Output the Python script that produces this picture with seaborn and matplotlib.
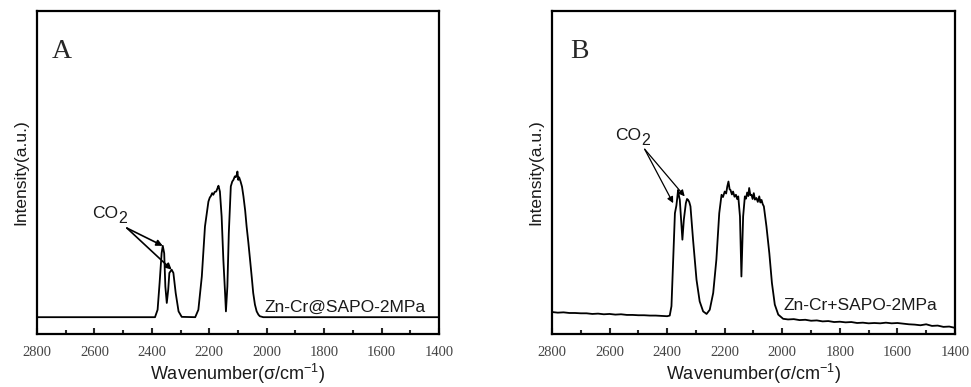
import numpy as np
import pandas as pd
import matplotlib
matplotlib.use("Agg")
import matplotlib.pyplot as plt
import seaborn as sns

sns.set_theme(style="white")
plt.rcParams["font.family"] = ["Liberation Sans", "DejaVu Sans"]
plt.rcParams["mathtext.fontset"] = "custom"
plt.rcParams["mathtext.rm"] = "Liberation Sans"
plt.rcParams["mathtext.it"] = "Liberation Sans:italic"

# ---- spectrum A: Zn-Cr@SAPO-2MPa (wavenumber, intensity a.u.) ----
wn_a = [2800, 2389, 2380, 2373, 2366, 2362, 2357, 2353, 2348, 2343, 2339, 2331,
        2325, 2317, 2307, 2296, 2249, 2238, 2226, 2215, 2203, 2198, 2195, 2190,
        2186, 2181, 2176, 2171, 2168, 2163, 2157, 2151, 2145, 2142, 2137, 2132,
        2125, 2120, 2116, 2111, 2107, 2104, 2102, 2099, 2096, 2091, 2086, 2081,
        2075, 2070, 2064, 2058, 2052, 2047, 2041, 2035, 2029, 2024, 2012, 1400]
int_a = [5.2, 5.2, 7.5, 15.8, 25.0, 27.3, 25.0, 14.7, 9.6, 13.7, 18.9, 19.9,
         18.9, 12.7, 7.0, 5.3, 5.2, 7.5, 17.8, 33.3, 41.0, 42.3, 42.6, 43.6,
         43.1, 44.0, 44.1, 45.2, 45.9, 44.1, 36.4, 23.0, 12.7, 7.0, 14.7, 31.2,
         45.7, 47.2, 47.7, 48.8, 48.6, 49.4, 50.3, 47.7, 48.5, 47.2, 45.6, 42.6,
         38.2, 33.3, 28.4, 23.0, 17.5, 12.7, 9.1, 7.0, 6.0, 5.5, 5.2, 5.2]

# ---- spectrum B: Zn-Cr+SAPO-2MPa ----
wn_b = [2800, 2780, 2760, 2740, 2720, 2700, 2680, 2660, 2640, 2620, 2600, 2580,
        2560, 2540, 2520, 2500, 2480, 2460, 2440, 2420, 2400, 2391, 2385, 2379,
        2373, 2368, 2365, 2362, 2359, 2356, 2350, 2347, 2342, 2335, 2331, 2327,
        2323, 2319, 2310, 2298, 2287, 2275, 2263, 2252, 2240, 2229, 2219, 2211,
        2206, 2200, 2195, 2191, 2187, 2183, 2180, 2175, 2171, 2166, 2161, 2157,
        2153, 2147, 2142, 2136, 2130, 2126, 2122, 2118, 2115, 2111, 2107, 2103,
        2099, 2095, 2090, 2085, 2080, 2076, 2072, 2068, 2064, 2055, 2045, 2036,
        2026, 2014, 1997, 1980, 1960, 1940, 1920, 1900, 1880, 1860, 1840, 1820,
        1800, 1780, 1760, 1740, 1720, 1700, 1680, 1660, 1640, 1620, 1600, 1580,
        1560, 1540, 1520, 1500, 1480, 1460, 1440, 1420, 1400]
int_b = [6.8, 6.6, 6.7, 6.5, 6.5, 6.4, 6.4, 6.2, 6.3, 6.1, 6.2, 6.0,
         6.1, 5.9, 5.9, 5.8, 5.8, 5.7, 5.7, 5.6, 5.5, 5.7, 8.6, 23.0,
         37.4, 39.7, 42.0, 44.6, 42.8, 41.5, 33.3, 29.2, 35.4, 40.5, 41.8, 41.5,
         40.8, 39.5, 29.2, 16.8, 10.1, 7.0, 6.2, 7.5, 12.7, 23.0, 37.4, 43.1,
         42.4, 44.1, 43.5, 45.7, 47.2, 44.8, 44.6, 43.2, 44.1, 42.5, 43.1, 41.8,
         42.6, 36.4, 17.8, 36.4, 42.6, 41.9, 43.8, 42.7, 45.2, 43.0, 43.1, 41.8,
         43.6, 41.6, 42.1, 40.9, 42.6, 40.7, 41.5, 40.2, 39.5, 33.3, 25.0, 15.8,
         9.1, 6.0, 4.7, 4.5, 4.6, 4.3, 4.4, 4.1, 4.2, 3.9, 4.0, 3.7,
         3.8, 3.6, 3.7, 3.4, 3.5, 3.3, 3.4, 3.3, 3.5, 3.3, 3.4, 3.2,
         3.0, 2.9, 2.7, 3.0, 2.5, 2.6, 2.2, 2.3, 1.9]

xticks = [2800, 2600, 2400, 2200, 2000, 1800, 1600, 1400]

panels = [
    dict(wn=wn_a, inten=int_a, letter="A", letter_xy=(2747, 85.4),
         sample="Zn-Cr@SAPO-2MPa", sample_xy=(2007, 6.8),
         co2_xy=(2609, 35.9), arrow_from=(2487, 32.8),
         arrow_to=[(2362, 27.3), (2331, 19.9)], arrow_lw=1.2,
         rect=[0.0381, 0.137, 0.414, 0.8346]),
    dict(wn=wn_b, inten=int_b, letter="B", letter_xy=(2737, 85.4),
         sample="Zn-Cr+SAPO-2MPa", sample_xy=(1997, 7.5),
         co2_xy=(2582, 60.1), arrow_from=(2478, 57.2),
         arrow_to=[(2379, 40.5), (2339, 42.6)], arrow_lw=0.9,
         rect=[0.5685, 0.137, 0.415, 0.8346]),
]

fig = plt.figure(figsize=(9.71, 3.87), dpi=100)

for p in panels:
    ax = fig.add_axes(p["rect"])
    df = pd.DataFrame({"wavenumber": p["wn"], "intensity": p["inten"]})
    sns.lineplot(data=df, x="wavenumber", y="intensity", ax=ax, color="black",
                 linewidth=1.3, estimator=None, sort=True)
    ax.set_xlim(2800, 1400)
    ax.set_ylim(0, 100)
    ax.set_xticks(xticks)
    ax.set_xticks(np.arange(1400, 2801, 100), minor=True)
    ax.set_xticklabels([str(t) for t in xticks], family="Liberation Serif",
                       fontsize=10.5, color="#444444")
    ax.set_yticks([])
    ax.tick_params(axis="x", which="major", direction="in", length=4, width=1.5,
                   pad=9, bottom=True, top=False)
    ax.tick_params(axis="x", which="minor", direction="in", length=3, width=1.5,
                   bottom=True, top=False)
    for s in ax.spines.values():
        s.set_linewidth(1.6)
        s.set_color("black")
    ax.set_xlabel("Wavenumber(σ/cm$^{-1}$)", fontsize=13, labelpad=1.5,
                  color="#1a1a1a")
    ax.set_ylabel("Intensity(a.u.)", fontsize=12.5, labelpad=6,
                  color="#1a1a1a")

    ax.text(*p["letter_xy"], p["letter"], family="Liberation Serif", fontsize=20,
            ha="left", va="baseline")
    ax.text(*p["sample_xy"], p["sample"], fontsize=12.5, ha="left",
            va="baseline", color="#1a1a1a")
    # CO2 label: "CO" with a lowered "2"
    ax.text(*p["co2_xy"], "CO", fontsize=12.5, ha="left", va="baseline",
            color="#1a1a1a")
    ax.annotate("2", xy=p["co2_xy"], xytext=(19.2, -3.5),
                textcoords="offset points", fontsize=11.5, ha="left",
                va="baseline", color="#1a1a1a")
    for end in p["arrow_to"]:
        ax.annotate("", xy=end, xytext=p["arrow_from"],
                    arrowprops=dict(arrowstyle="-|>", color="black",
                                    lw=p["arrow_lw"], mutation_scale=9,
                                    shrinkA=0, shrinkB=0))

fig.savefig("out.png", dpi=100)
